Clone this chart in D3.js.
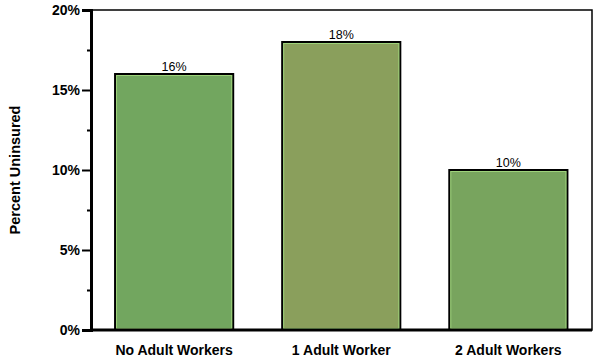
<!DOCTYPE html>
<html>
<head>
<meta charset="utf-8">
<script src="https://cdn.jsdelivr.net/npm/d3@7"></script>
<style>
  body { margin: 0; background: #fff; }
  svg { display: block; }
</style>
</head>
<body>
<div id="chart"></div>
<script>
"use strict";

// data
var categories = ["No Adult Workers", "1 Adult Worker", "2 Adult Workers"];
var values = [16, 18, 10];
var yTicks = [0, 5, 10, 15, 20];

var width = 600, height = 362;
var margin = {top: 10, right: 8, bottom: 32, left: 91};
var font = "Liberation Sans, Arial, sans-serif";
var barColors = ["#72a65f", "#8a9f5c", "#78a45e"];

var svg = d3.select("#chart")
    .append("svg")
    .attr("width", width)
    .attr("height", height);

var x = d3.scaleBand()
    .domain(categories)
    .range([margin.left, width - margin.right - 0.5])
    .paddingInner(0.293)
    .paddingOuter(0.144);

var y = d3.scaleLinear()
    .domain([0, 20])
    .range([height - margin.bottom, margin.top]);

var g = svg.append("g");

// frame (top and right)
g.append("rect")
    .attr("x", margin.left)
    .attr("y", y(20))
    .attr("width", width - margin.right - margin.left)
    .attr("height", y(0) - y(20))
    .attr("fill", "none")
    .attr("stroke", "#000")
    .attr("stroke-width", 1.5);

// bars
g.selectAll(".bar")
    .data(values)
    .enter()
    .append("rect")
    .attr("class", "bar")
    .attr("x", function (d, i) { return x(categories[i]); })
    .attr("y", function (d) { return y(d); })
    .attr("width", x.bandwidth())
    .attr("height", function (d) { return y(0) - y(d); })
    .attr("fill", function (d, i) { return barColors[i]; })
    .attr("stroke", "#000")
    .attr("stroke-width", 2);

// thin light edge just inside each bar
g.selectAll(".edge")
    .data(values)
    .enter()
    .append("rect")
    .attr("class", "edge")
    .attr("x", function (d, i) { return x(categories[i]) + 1.5; })
    .attr("y", function (d) { return y(d) + 1.5; })
    .attr("width", x.bandwidth() - 3)
    .attr("height", function (d) { return y(0) - y(d) - 3; })
    .attr("fill", "none")
    .attr("stroke", "#9ed27a")
    .attr("stroke-width", 1);

// value labels
g.selectAll(".val")
    .data(values)
    .enter()
    .append("text")
    .attr("class", "val")
    .attr("x", function (d, i) { return x(categories[i]) + x.bandwidth() / 2; })
    .attr("y", function (d) { return y(d) - 3; })
    .attr("text-anchor", "middle")
    .style("font-family", font)
    .style("font-size", "12.5px")
    .text(function (d) { return d + "%"; });

// y axis
var yAxis = d3.axisLeft(y)
    .tickValues(yTicks)
    .tickSize(9)
    .tickPadding(2)
    .tickFormat(function (d) { return d + "%"; });

var ya = g.append("g")
    .attr("transform", "translate(" + margin.left + ",0)")
    .call(yAxis);
ya.select(".domain").attr("stroke-width", 3);
ya.selectAll(".tick line").attr("stroke-width", 2);
ya.selectAll(".tick text")
    .style("font-family", font)
    .style("font-size", "14px")
    .style("font-weight", "bold")
    .attr("fill", "#000");

// minor ticks at the half steps
var minor = d3.axisLeft(y)
    .tickValues([2.5, 7.5, 12.5, 17.5])
    .tickSize(4)
    .tickFormat("");
var ym = g.append("g")
    .attr("transform", "translate(" + margin.left + ",0)")
    .call(minor);
ym.select(".domain").remove();
ym.selectAll(".tick line").attr("stroke-width", 2);

// x axis
var xAxis = d3.axisBottom(x).tickSize(0).tickPadding(15);
var xa = g.append("g")
    .attr("transform", "translate(0," + y(0) + ")")
    .call(xAxis);
xa.select(".domain").attr("stroke-width", 3)
    .attr("d", "M" + (margin.left - 1) + ",0H" + (width - margin.right));
xa.selectAll(".tick text")
    .style("font-family", font)
    .style("font-size", "14px")
    .style("font-weight", "bold")
    .attr("fill", "#000");

// y title
svg.append("text")
    .attr("transform", "translate(20," + ((y(0) + y(20)) / 2) + ") rotate(-90)")
    .attr("text-anchor", "middle")
    .style("font-family", font)
    .style("font-size", "14.5px")
    .style("font-weight", "bold")
    .text("Percent Uninsured");
</script>
</body>
</html>
